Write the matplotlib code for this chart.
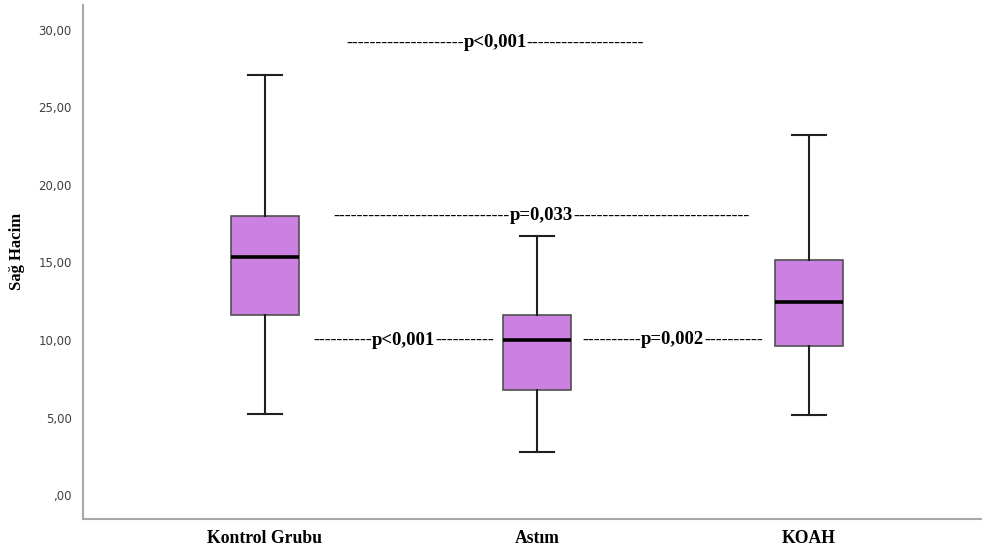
import matplotlib
matplotlib.use("Agg")
import matplotlib.pyplot as plt

groups = ["Kontrol Grubu", "Astım", "KOAH"]
whislo = [5.24, 2.78, 5.17]
q1 = [11.64, 6.79, 9.63]
med = [15.38, 10.02, 12.48]
q3 = [17.97, 11.64, 15.13]
whishi = [27.08, 16.68, 23.20]

yticks = [0, 5, 10, 15, 20, 25, 30]
ytick_labels = [",00", "5,00", "10,00", "15,00", "20,00", "25,00", "30,00"]

# p-value annotations
p_texts = ["p<0,001", "p=0,033", "p<0,001", "p=0,002"]
p_dashes = [(20, 20), (30, 30), (10, 10), (10, 10)]
p_x = [1.846, 2.017, 1.509, 2.498]
p_y = [29.15, 18.0, 9.95, 10.0]

fig = plt.figure(figsize=(9.82, 5.54), dpi=100)
ax = fig.add_axes([0.0845, 0.063, 0.9155, 0.928])

stats = []
for i, g in enumerate(groups):
    stats.append(dict(label=g, whislo=whislo[i], q1=q1[i], med=med[i],
                      q3=q3[i], whishi=whishi[i], fliers=[]))

ax.bxp(stats, positions=[1, 2, 3], widths=0.25, patch_artist=True,
       showfliers=False,
       boxprops=dict(facecolor="#cc80e2", edgecolor="#505050", linewidth=1.2),
       medianprops=dict(color="black", linewidth=2.6),
       whiskerprops=dict(color="#202020", linewidth=1.5),
       capprops=dict(color="#202020", linewidth=1.5),
       capwidths=0.125)

for t, (l, r), x, y in zip(p_texts, p_dashes, p_x, p_y):
    pt = ax.text(x, y, t, ha="center", va="center",
                 fontsize=13.5, fontweight="bold", family="Liberation Serif",
                 color="black")
    ax.annotate("-" * l, xy=(0, 0.5), xycoords=pt, ha="right", va="center",
                fontsize=12.8, family="Liberation Serif", color="black")
    ax.annotate("-" * r, xy=(1, 0.5), xycoords=pt, ha="left", va="center",
                fontsize=12.8, family="Liberation Serif", color="black")

ax.set_xlim(0.331, 3.636)
ax.set_ylim(-1.55, 31.6)
ax.set_yticks(yticks)
ax.set_yticklabels(ytick_labels, fontsize=8.5, color="#404040",
                   family="DejaVu Sans")
ax.set_xticks([1, 2, 3])
ax.set_xticklabels(groups, fontsize=12.7, fontweight="bold",
                   family="Liberation Serif")
ax.tick_params(axis="both", length=0, pad=8)
ax.tick_params(axis="x", pad=8)
ax.set_ylabel("Sağ Hacim", fontsize=12, fontweight="bold",
              family="Liberation Serif")
ax.yaxis.set_label_coords(-0.064, 0.52)

for s in ["top", "right"]:
    ax.spines[s].set_visible(False)
for s in ["left", "bottom"]:
    ax.spines[s].set_color("#a8a8a8")
    ax.spines[s].set_linewidth(1.5)

fig.savefig("out.png", dpi=100)
